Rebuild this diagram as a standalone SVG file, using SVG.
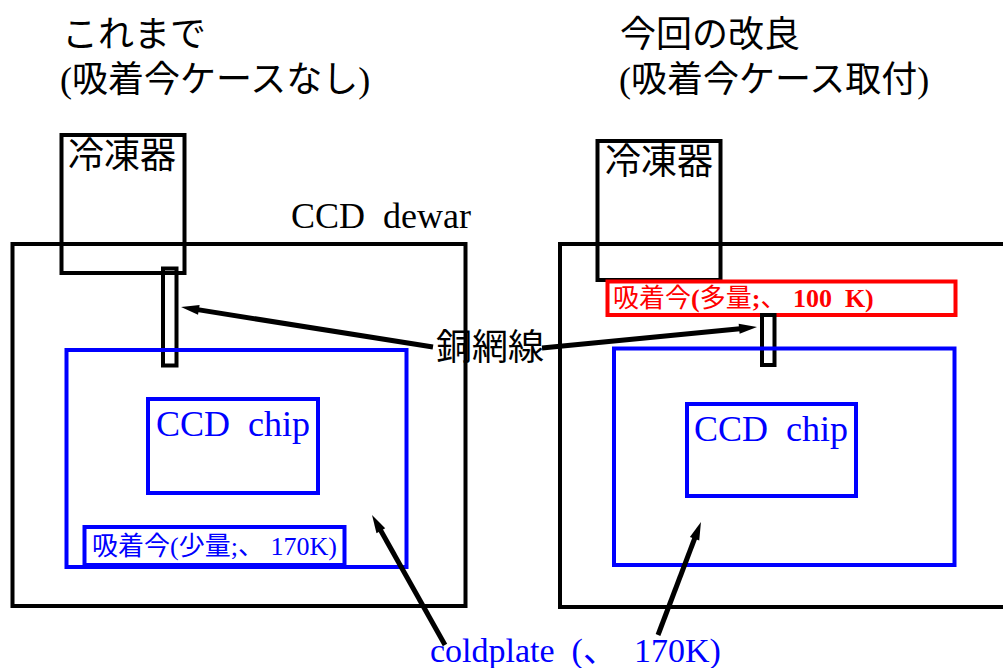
<svg xmlns="http://www.w3.org/2000/svg" width="1003" height="668" viewBox="0 0 1003 668">
<style>
text{font-family:"Liberation Serif","Noto Sans CJK JP",serif;white-space:pre;}
.bk{fill:none;stroke:#000;stroke-width:4;}
.bl{fill:none;stroke:#0000ff;stroke-width:4;}
.rd{fill:none;stroke:#ff0000;stroke-width:4;}
.t36{font-size:36px;fill:#000;}
.tb{fill:#0000ff;}
.ar{fill:none;stroke:#000;stroke-width:5;marker-end:url(#ah);}
</style>
<defs>
<marker id="ah" markerUnits="userSpaceOnUse" markerWidth="20" markerHeight="12" refX="6" refY="5" orient="auto" overflow="visible">
<path d="M0,0 L18,5 L0,10 z" fill="#000"/>
</marker>
</defs>
<rect width="1003" height="668" fill="#fff"/>
<g id="title-left">
<text class="t36" x="62" y="47">これまで</text>
<text class="t36" x="60" y="92">(吸着今ケースなし)</text>
</g>
<g id="title-right">
<text class="t36" x="620" y="47">今回の改良</text>
<text class="t36" x="619" y="92">(吸着今ケース取付)</text>
</g>
<g id="dewar-left">
<rect class="bk" x="12.5" y="244" width="453" height="362"/>
<text class="t36" x="291" y="228" xml:space="preserve">CCD  dewar</text>
</g>
<g id="fridge-left">
<rect class="bk" x="61.5" y="135" width="123" height="138"/>
<text class="t36" x="68" y="168">冷凍器</text>
</g>
<g id="copper-left">
<rect class="bk" x="163" y="268.5" width="13.5" height="97"/>
</g>
<g id="coldplate-left">
<rect class="bl" x="66.5" y="350" width="340" height="217"/>
</g>
<g id="chip-left">
<rect class="bl" x="148" y="399" width="170" height="94"/>
<text class="t36 tb" x="156" y="436" xml:space="preserve">CCD  chip</text>
</g>
<g id="getter-left">
<rect class="bl" x="84.5" y="527" width="260" height="38"/>
<text class="tb" x="92" y="555" font-size="26" xml:space="preserve">吸着今(少量;、 170K)</text>
</g>
<g id="dewar-right">
<rect class="bk" x="560" y="244" width="460" height="363"/>
</g>
<g id="fridge-right">
<rect class="bk" x="597.5" y="141" width="123" height="139"/>
<text class="t36" x="605" y="174">冷凍器</text>
</g>
<g id="getter-right">
<rect class="rd" x="607.5" y="281.5" width="348" height="33.5"/>
<text x="613" y="307" font-size="26" fill="#ff0000" xml:space="preserve">吸着今<tspan font-weight="bold">(</tspan>多量<tspan font-weight="bold">;</tspan>、<tspan font-weight="bold"> 100  K)</tspan></text>
</g>
<g id="copper-right">
<rect class="bk" x="762" y="315" width="12.5" height="50"/>
</g>
<g id="coldplate-right">
<rect class="bl" x="614" y="348.5" width="340.5" height="216.5"/>
</g>
<g id="chip-right">
<rect class="bl" x="687" y="404" width="169" height="92"/>
<text class="t36 tb" x="694" y="441" xml:space="preserve">CCD  chip</text>
</g>
<g id="label-copper">
<text class="t36" x="436" y="360">銅網線</text>
</g>
<g id="label-coldplate">
<text class="tb" x="430" y="662" font-size="34" xml:space="preserve">coldplate  (、  170K)</text>
</g>
<g id="connectors">
<line class="ar" x1="433" y1="347" x2="192.9" y2="308.9"/>
<line class="ar" x1="542" y1="348" x2="745.1" y2="328.2"/>
<line class="ar" x1="445" y1="645" x2="377.9" y2="525.5"/>
<line class="ar" x1="658" y1="635" x2="696.7" y2="533.2"/>
</g>
</svg>
